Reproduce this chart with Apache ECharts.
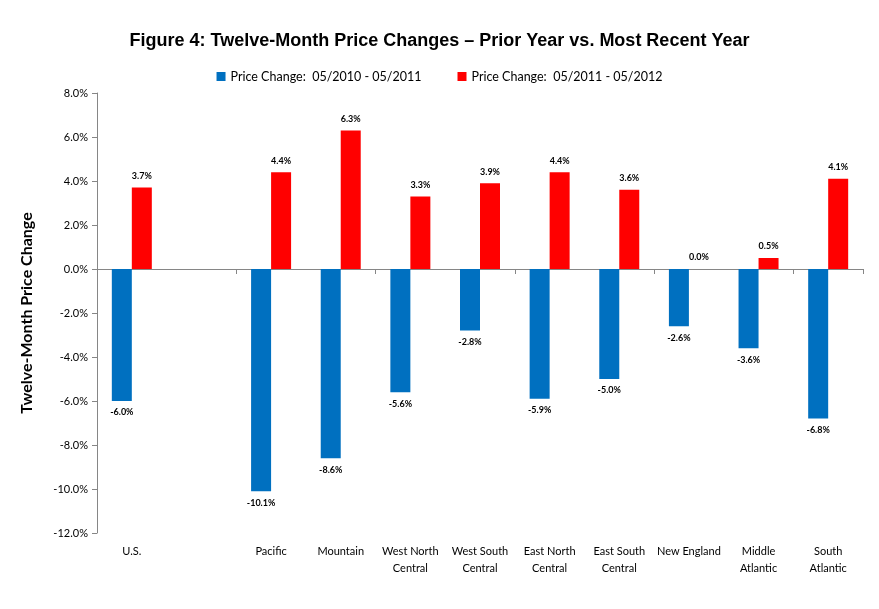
<!DOCTYPE html>
<html>
<head>
<meta charset="utf-8">
<script src="https://cdn.jsdelivr.net/npm/echarts@6/dist/echarts.min.js"></script>
<style>html,body{margin:0;padding:0;background:#fff}#c{width:879px;height:609px}</style>
</head>
<body>
<div id="c"></div>
<script>
const categories = ['U.S.', '', 'Pacific', 'Mountain', 'West North\nCentral', 'West South\nCentral', 'East North\nCentral', 'East South\nCentral', 'New England', 'Middle\nAtlantic', 'South\nAtlantic'];
const prior = [-6.0, null, -10.1, -8.6, -5.6, -2.8, -5.9, -5.0, -2.6, -3.6, -6.8];
const recent = [3.7, null, 4.4, 6.3, 3.3, 3.9, 4.4, 3.6, 0.0, 0.5, 4.1];
const seriesNames = ['Price Change:  05/2010 - 05/2011', 'Price Change:  05/2011 - 05/2012'];
const yTicks = { min: -12, max: 8, interval: 2 };

const font = 'Lato, "Open Sans", sans-serif';
const chart = echarts.init(document.getElementById('c'));
const pct = v => (v == null ? '' : Number(v).toFixed(1) + '%');
chart.setOption({
  animation: false,
  title: {
    text: 'Figure 4: Twelve-Month Price Changes \u2013 Prior Year vs. Most Recent Year',
    left: 'center', top: 27,
    textStyle: { fontFamily: '"Liberation Sans", Arial, sans-serif', fontSize: 18, fontWeight: 'bold', color: '#000' }
  },
  legend: {
    top: 65, left: 'center', itemWidth: 9, itemHeight: 9, itemGap: 36,
    icon: 'rect',
    textStyle: { fontFamily: font, fontSize: 12.5, color: '#000' }
  },
  grid: { left: 97, right: 16, top: 93, bottom: 76 },
  xAxis: [
    {
      type: 'category', data: categories, position: 'bottom',
      axisLine: { show: false, onZero: false }, axisTick: { show: false },
      axisLabel: { interval: 0, fontFamily: font, fontSize: 11, color: '#000', margin: 10, lineHeight: 17 }
    },
    {
      type: 'category', data: categories, position: 'bottom',
      axisLine: { show: true, onZero: true, lineStyle: { color: '#868686' } },
      axisTick: { show: true, length: 5, lineStyle: { color: '#868686' } },
      axisLabel: { show: false }
    }
  ],
  yAxis: {
    type: 'value', min: yTicks.min, max: yTicks.max, interval: yTicks.interval,
    name: 'Twelve-Month Price Change', nameLocation: 'middle', nameRotate: 90, nameGap: 62,
    nameTextStyle: { fontFamily: font, fontSize: 16, fontWeight: 'bold', color: '#000' },
    axisLine: { show: true, lineStyle: { color: '#868686' } },
    axisTick: { show: true, length: 5, lineStyle: { color: '#868686' } },
    splitLine: { show: false },
    axisLabel: { formatter: v => v.toFixed(1) + '%', fontFamily: font, fontSize: 11, color: '#000', margin: 9 }
  },
  series: [
    {
      name: seriesNames[0], type: 'bar', data: prior, barWidth: 20, barGap: '0%',
      itemStyle: { color: '#0070C0' },
      label: { show: true, position: 'bottom', distance: 7, formatter: p => pct(p.value), fontFamily: font, fontSize: 9, fontWeight: 'bold', color: '#000' }
    },
    {
      name: seriesNames[1], type: 'bar', data: recent, barWidth: 20, barGap: '0%',
      itemStyle: { color: '#FF0000' },
      label: { show: true, position: 'top', distance: 7, formatter: p => pct(p.value), fontFamily: font, fontSize: 9, fontWeight: 'bold', color: '#000' }
    }
  ]
});
</script>
</body>
</html>
